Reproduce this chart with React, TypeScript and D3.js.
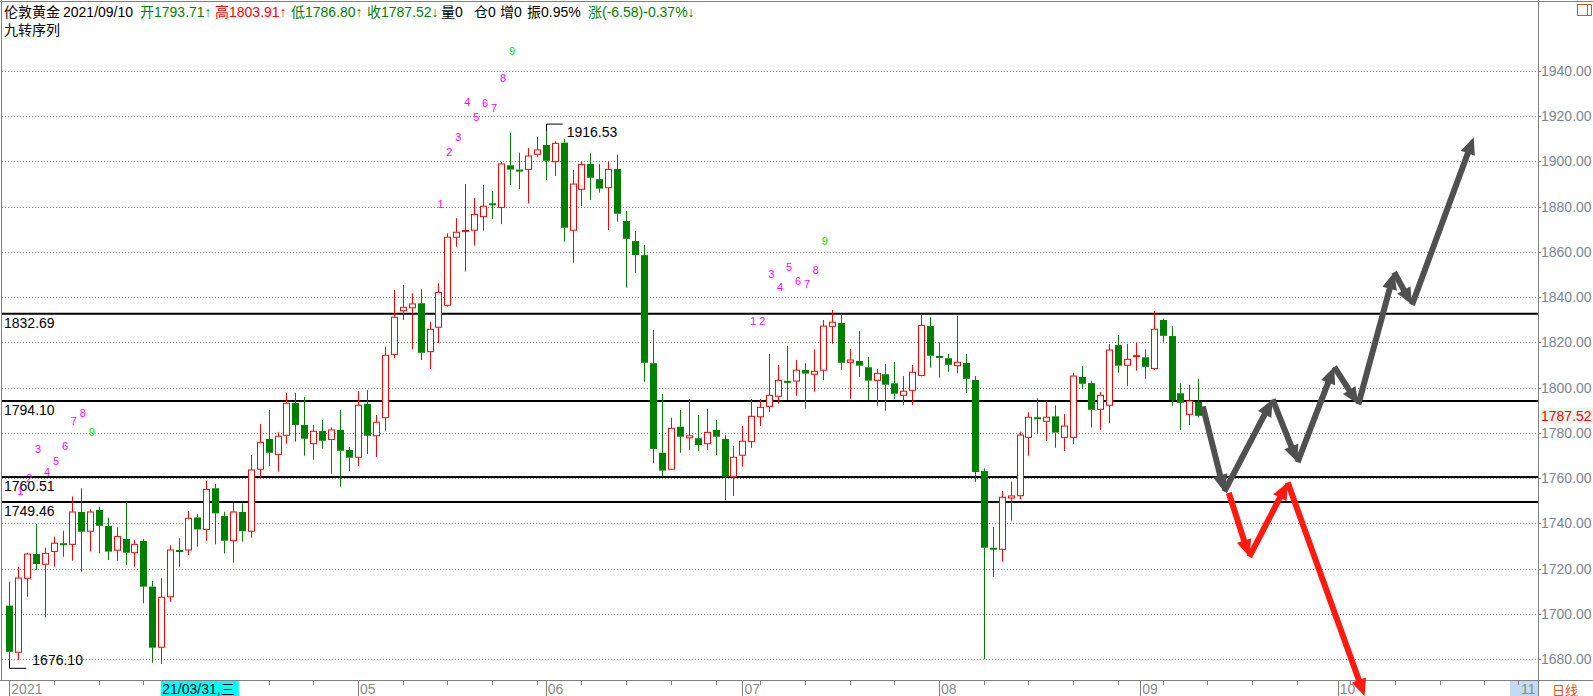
import React from "react";
import * as d3 from "d3";

const W = 1593;
const H = 696;

// OHLC, index 0 = 2021-03-08
const opens = [1703.6,1683.0,1715.7,1726.4,1721.9,1727.5,1731.2,1730.7,1745.0,1736.5,1745.9,1738.8,1728.1,1733.1,1727.0,1732.2,1712.0,1685.2,1707.5,1728.2,1728.2,1742.6,1737.3,1755.5,1743.2,1732.3,1745.0,1736.5,1763.9,1777.3,1770.5,1778.9,1793.2,1783.5,1775.2,1780.8,1777.1,1781.3,1772.4,1769.2,1792.8,1778.7,1786.7,1814.7,1834.0,1835.3,1837.3,1815.9,1826.7,1836.4,1866.5,1869.0,1869.6,1875.6,1881.5,1879.7,1898.3,1896.4,1896.5,1903.2,1907.3,1899.9,1908.3,1869.6,1887.7,1898.9,1892.2,1888.4,1896.7,1873.7,1864.8,1858.6,1810.8,1771.2,1763.9,1782.7,1777.8,1777.6,1775.2,1781.3,1777.3,1760.6,1770.1,1776.1,1787.1,1791.7,1796.2,1803.0,1802.9,1807.8,1805.9,1807.7,1827.1,1828.6,1811.2,1811.8,1809.0,1803.2,1805.9,1801.9,1796.6,1798.8,1805.4,1827.2,1814.0,1813.0,1809.7,1810.9,1803.4,1763.1,1729.2,1728.5,1751.2,1752.2,1778.0,1786.9,1785.1,1787.3,1778.0,1778.0,1804.7,1802.0,1790.4,1792.2,1818.8,1809.9,1813.5,1813.4,1808.4,1829.9,1822.8,1797.5,1788.2,1793.71];
const highs = [1714.2,1720.8,1727.0,1739.7,1729.2,1734.1,1736.7,1751.8,1755.5,1746.2,1747.3,1742.5,1738.2,1749.6,1732.6,1733.1,1714.5,1715.7,1730.3,1733.4,1745.4,1744.1,1758.8,1757.4,1745.1,1748.8,1748.8,1770.2,1783.9,1790.1,1780.2,1797.6,1797.6,1795.8,1783.5,1785.7,1782.4,1790.1,1773.7,1798.5,1798.9,1787.9,1818.1,1843.2,1845.4,1841.7,1843.5,1829.1,1846.1,1868.2,1874.9,1890.0,1883.8,1889.6,1886.9,1899.9,1912.7,1903.9,1906.0,1910.9,1916.53,1909.0,1909.9,1896.2,1899.9,1903.6,1898.9,1899.9,1903.0,1878.1,1869.3,1863.1,1825.5,1797.2,1786.7,1790.1,1795.0,1787.9,1790.5,1785.7,1779.0,1774.2,1783.0,1795.0,1795.0,1814.9,1810.0,1818.4,1812.2,1810.8,1816.9,1829.9,1834.3,1832.5,1817.1,1825.0,1813.5,1808.2,1810.4,1811.3,1805.1,1810.0,1832.4,1831.1,1820.0,1814.9,1831.7,1814.9,1805.1,1764.3,1738.4,1754.3,1758.4,1780.5,1789.1,1795.3,1793.8,1792.2,1788.3,1806.6,1809.6,1803.1,1798.1,1819.3,1823.3,1819.3,1820.0,1816.9,1833.9,1830.5,1827.2,1801.9,1801.2,1803.91];
const lows = [1676.1,1679.6,1707.5,1719.4,1698.4,1720.8,1725.2,1723.5,1718.6,1727.5,1726.7,1723.8,1723.5,1721.6,1720.8,1704.6,1678.4,1677.8,1705.3,1720.8,1726.0,1729.7,1732.3,1730.7,1726.7,1722.6,1731.9,1733.6,1759.9,1765.3,1762.8,1775.2,1776.1,1769.9,1768.1,1773.0,1761.9,1756.2,1763.1,1765.3,1770.6,1769.3,1780.9,1813.0,1829.9,1816.9,1812.2,1808.2,1819.6,1835.8,1862.3,1851.3,1862.8,1869.4,1874.6,1872.3,1889.6,1887.8,1881.5,1902.1,1891.8,1893.6,1864.5,1855.2,1880.3,1883.0,1886.2,1869.7,1873.4,1844.2,1850.8,1802.6,1766.5,1760.9,1763.6,1771.2,1772.4,1772.0,1772.4,1770.2,1750.3,1752.1,1765.0,1773.4,1783.0,1789.3,1792.9,1794.5,1796.4,1790.7,1798.2,1803.4,1819.4,1807.8,1795.1,1804.8,1794.5,1791.9,1789.8,1795.1,1792.3,1792.3,1805.0,1808.8,1804.4,1807.0,1806.3,1797.6,1758.3,1679.9,1716.4,1723.0,1741.2,1750.7,1769.9,1779.8,1776.5,1773.4,1772.0,1775.0,1799.5,1782.3,1781.3,1784.2,1806.6,1800.8,1807.5,1803.9,1807.8,1820.3,1792.0,1781.3,1783.5,1786.80];
const closes = [1683.2,1715.8,1726.4,1722.0,1726.7,1731.2,1730.4,1745.0,1736.3,1745.0,1738.9,1727.5,1734.1,1727.0,1730.7,1712.0,1685.0,1707.3,1728.2,1727.7,1742.2,1737.3,1755.0,1744.4,1732.3,1745.0,1736.5,1763.6,1775.8,1771.2,1778.5,1793.1,1783.5,1777.4,1780.7,1776.5,1781.3,1772.1,1769.0,1792.2,1778.7,1784.7,1814.3,1831.1,1835.5,1837.0,1815.4,1825.8,1842.1,1866.5,1868.7,1869.3,1876.6,1880.2,1881.0,1898.9,1896.4,1896.0,1902.4,1905.1,1900.3,1908.0,1870.7,1890.0,1898.7,1892.8,1888.0,1896.5,1876.9,1865.8,1858.6,1811.0,1772.9,1763.3,1782.0,1778.3,1778.7,1774.6,1780.2,1778.3,1760.6,1769.2,1776.3,1787.3,1791.3,1796.6,1803.2,1802.6,1807.7,1806.2,1807.2,1827.2,1828.9,1811.0,1812.2,1809.7,1803.1,1806.3,1801.3,1797.3,1798.4,1806.8,1827.5,1814.1,1813.6,1810.1,1811.2,1803.9,1762.7,1729.2,1728.6,1751.5,1752.1,1779.0,1786.9,1786.0,1786.9,1780.1,1783.0,1805.1,1801.7,1790.2,1796.6,1816.6,1809.7,1812.5,1813.9,1809.2,1825.8,1822.9,1794.5,1793.3,1794.1,1787.52];

const yTicks = [1680,1700,1720,1740,1760,1780,1800,1820,1840,1860,1880,1900,1920,1940];
const levels = [1832.69, 1794.10, 1760.51, 1749.46];

const monthTicks = [
  { i: 0, label: "2021" },
  { i: 39, label: "05" },
  { i: 60, label: "06" },
  { i: 82, label: "07" },
  { i: 104, label: "08" },
  { i: 126.5, label: "09" },
  { i: 148.6, label: "10" },
];
const weekTicks = [5,10,15,20,24,29,34,44,49,54,59,64,69,74,79,84,89,94,99,109,114,119,124,129,134,139,144,150,155,160,165];

// TD sequential numbers: [index, price position, label]
const tdSet1 = [[1,1754.3,"1"],[2,1760.0,"2"],[3,1772.9,"3"],[4,1762.7,"4"],[5,1767.5,"5"],[6,1774.2,"6"],[7,1785.2,"7"],[8,1788.8,"8"],[9,1780.4,"9"]];
const tdSet2 = [[48,1881.2,"1"],[49,1904.1,"2"],[50,1910.8,"3"],[51,1926.5,"4"],[52,1919.7,"5"],[53,1926.0,"6"],[54,1923.8,"7"],[55,1936.8,"8"],[56,1948.9,"9"]];
const tdSet3 = [[83,1829.3,"1"],[84,1829.3,"2"],[85,1850.1,"3"],[86,1844.3,"4"],[87,1853.2,"5"],[88,1847.0,"6"],[89,1845.6,"7"],[90,1851.9,"8"],[91,1864.9,"9"]];

// projection arrows: [index, price]
const grayPath = [[133.5,1791.7],[135.9,1754.0],[141.3,1794.8],[144.1,1767.0],[148.2,1809.2],[150.9,1792.6],[154.9,1851.0],[156.9,1836.6],[163.8,1910.7]];
const redPath = [[136.4,1753.5],[138.7,1725.2],[143.0,1758.0],[151.6,1663.6]];

const header = [
  { x: 4, t: "伦敦黄金", c: "#000" },
  { x: 63, t: "2021/09/10", c: "#000" },
  { x: 140, t: "开1793.71↑", c: "#008000" },
  { x: 215, t: "高1803.91↑", c: "#ff0000" },
  { x: 291, t: "低1786.80↑", c: "#008000" },
  { x: 367, t: "收1787.52↓", c: "#008000" },
  { x: 441, t: "量0", c: "#000" },
  { x: 474, t: "仓0", c: "#000" },
  { x: 500, t: "增0", c: "#000" },
  { x: 527, t: "振0.95%", c: "#000" },
  { x: 588, t: "涨(-6.58)-0.37%↓", c: "#008000" },
];

const FONT = "'Liberation Sans', Arial, 'Noto Sans CJK SC', sans-serif";

function arrowPoly(p0: number[], p1: number[], shaft = 6, head = 15, headLen = 17) {
  const dx = p1[0] - p0[0], dy = p1[1] - p0[1];
  const len = Math.hypot(dx, dy);
  const ux = dx / len, uy = dy / len;
  const nx = -uy, ny = ux;
  const bx = p1[0] - ux * headLen, by = p1[1] - uy * headLen;
  const pts = [
    [p0[0] + nx * shaft / 2, p0[1] + ny * shaft / 2],
    [bx + nx * shaft / 2, by + ny * shaft / 2],
    [bx + nx * head / 2, by + ny * head / 2],
    [p1[0], p1[1]],
    [bx - nx * head / 2, by - ny * head / 2],
    [bx - nx * shaft / 2, by - ny * shaft / 2],
    [p0[0] - nx * shaft / 2, p0[1] - ny * shaft / 2],
  ];
  return pts.map((p) => p.join(",")).join(" ");
}

export default function App() {
  const x = d3.scaleLinear().domain([0, 133]).range([9.33, 1198.35]);
  const y = d3.scaleLinear().domain([1680, 1940]).range([659, 71]);
  const axisX = 1538;
  const axisY = 680;

  const candles = opens.map((o, i) => ({ i, o, h: highs[i], l: lows[i], c: closes[i] }));
  const hiIdx = highs.indexOf(d3.max(highs) as number);
  const loIdx = lows.indexOf(d3.min(lows) as number);

  const gp = grayPath.map((d) => [x(d[0]), y(d[1])]);
  const rp = redPath.map((d) => [x(d[0]), y(d[1])]);

  const td = [tdSet1, tdSet2, tdSet3];

  return (
    <svg width={W} height={H} style={{ position: "absolute", left: 0, top: 0, background: "#fff" }} fontFamily={FONT}>
      <rect x={0} y={0} width={W} height={H} fill="#fff" />
      <line x1={0} x2={W} y1={1.5} y2={1.5} stroke="#808080" />
      <line x1={1.5} x2={1.5} y1={0} y2={axisY} stroke="#808080" />
      <line x1={axisX + 0.5} x2={axisX + 0.5} y1={0} y2={H} stroke="#808080" />
      <line x1={0} x2={W} y1={axisY + 0.5} y2={axisY + 0.5} stroke="#808080" />

      {yTicks.map((v) => (
        <g key={v}>
          <line x1={2} x2={axisX} y1={Math.round(y(v)) + 0.5} y2={Math.round(y(v)) + 0.5} stroke="#808080" strokeDasharray="1,2" />
          <line x1={axisX} x2={axisX + 3} y1={Math.round(y(v)) + 0.5} y2={Math.round(y(v)) + 0.5} stroke="#808080" />
          <text x={axisX + 3} y={y(v) + 5} fontSize={14} fill="#7a8591">{v.toFixed(2)}</text>
        </g>
      ))}

      {levels.map((v) => (
        <g key={v}>
          <line x1={2} x2={axisX} y1={y(v)} y2={y(v)} stroke="#000" strokeWidth={2} />
          <text x={4} y={y(v) + 14.5} fontSize={14} fill="#000">{v.toFixed(2)}</text>
        </g>
      ))}

      {candles.map((d) => {
        const cx = Math.round(x(d.i)) + 0.5;
        const up = d.c >= d.o;
        const col = up ? "#ff0000" : "#008000";
        const top = y(Math.max(d.o, d.c));
        const bot = y(Math.min(d.o, d.c));
        const bh = Math.max(1, bot - top);
        return (
          <g key={d.i}>
            <line x1={cx} x2={cx} y1={y(d.h)} y2={top} stroke={col} />
            <line x1={cx} x2={cx} y1={bot} y2={y(d.l)} stroke={col} />
            {up ? (
              bh < 2 ? (
                <line x1={cx - 3.5} x2={cx + 3.5} y1={top} y2={top} stroke={col} strokeWidth={2} />
              ) : (
                <rect x={cx - 3} y={top} width={6} height={bh} fill="#fff" stroke={col} />
              )
            ) : (
              <rect x={cx - 3.5} y={top} width={7} height={Math.max(2, bh)} fill={col} />
            )}
          </g>
        );
      })}

      <path d={`M${Math.round(x(hiIdx)) + 0.5},${y(highs[hiIdx]) + 7} V${y(highs[hiIdx])} H${x(hiIdx) + 17}`} fill="none" stroke="#000" />
      <text x={x(hiIdx) + 21} y={y(highs[hiIdx]) + 13} fontSize={14} fill="#000">{highs[hiIdx].toFixed(2)}</text>
      <path d={`M${Math.round(x(loIdx)) + 0.5},${y(lows[loIdx]) - 7} V${y(lows[loIdx]) + 0.5} H${x(loIdx) + 17}`} fill="none" stroke="#000" />
      <text x={x(loIdx) + 23} y={y(lows[loIdx]) - 3} fontSize={14} fill="#000">{lows[loIdx].toFixed(2)}</text>

      {td.map((set, si) =>
        set.map((d: any) => (
          <text key={si + "-" + d[0]} x={x(d[0]) + 2} y={y(d[1]) + 4} fontSize={11} textAnchor="middle" fill={d[2] === "9" ? "#00dd00" : "#ff00ff"}>{d[2]}</text>
        ))
      )}

      {gp.slice(1).map((p, k) => (
        <polygon key={"g" + k} points={arrowPoly(gp[k], p)} fill="#505050" />
      ))}
      {rp.slice(1).map((p, k) => (
        <polygon key={"r" + k} points={arrowPoly(rp[k], p)} fill="#ff1a10" />
      ))}

      {header.map((h) => (
        <text key={h.t} x={h.x} y={17} fontSize={14} fill={h.c}>{h.t}</text>
      ))}
      <text x={4} y={35} fontSize={14} fill="#000">九转序列</text>

      <polygon points={`${axisX + 1},${y(closes[133])} ${axisX + 6},${y(closes[133]) - 8} ${W},${y(closes[133]) - 8} ${W},${y(closes[133]) + 8} ${axisX + 6},${y(closes[133]) + 8}`} fill="#eaf6ea" />
      <text x={axisX + 3} y={y(closes[133]) + 5} fontSize={14} fill="#ff0000">{closes[133].toFixed(2)}</text>

      {weekTicks.map((i) => (
        <line key={i} x1={Math.round(x(i)) + 0.5} x2={Math.round(x(i)) + 0.5} y1={axisY} y2={axisY + 5} stroke="#808080" />
      ))}
      {monthTicks.map((m) => (
        <g key={m.label}>
          <line x1={Math.round(x(m.i)) + 0.5} x2={Math.round(x(m.i)) + 0.5} y1={axisY} y2={H} stroke="#808080" />
          <text x={x(m.i) + 2} y={H - 2} fontSize={14} fill="#8a8a8a">{m.label}</text>
        </g>
      ))}
      <rect x={x(17) - 0.5} y={axisY + 1} width={78} height={H - axisY - 1} fill="#00ffff" />
      <text x={x(17) + 1} y={H - 2} fontSize={14} fill="#000">21/03/31,三</text>
      <rect x={1510} y={axisY + 1} width={axisX - 1510} height={H - axisY - 1} fill="#c4daf2" />
      <line x1={1518.5} x2={1518.5} y1={axisY} y2={axisY + 5} stroke="#808080" />
      <text x={1521} y={H - 2} fontSize={14} fill="#8a8a8a">11</text>
      <text x={1552} y={H - 1} fontSize={13} fill="#e8501a" fontFamily="'Noto Sans CJK SC', sans-serif">日线</text>

      <rect x={1577.5} y={4.5} width={10} height={11} fill="none" stroke="#e8501a" />
      <line x1={1587.5} x2={1591.5} y1={4.5} y2={4.5} stroke="#e8501a" />
      <line x1={1591.5} x2={1591.5} y1={4.5} y2={15.5} stroke="#e8501a" />
      <line x1={1587.5} x2={1591.5} y1={15.5} y2={15.5} stroke="#e8501a" />
    </svg>
  );
}
